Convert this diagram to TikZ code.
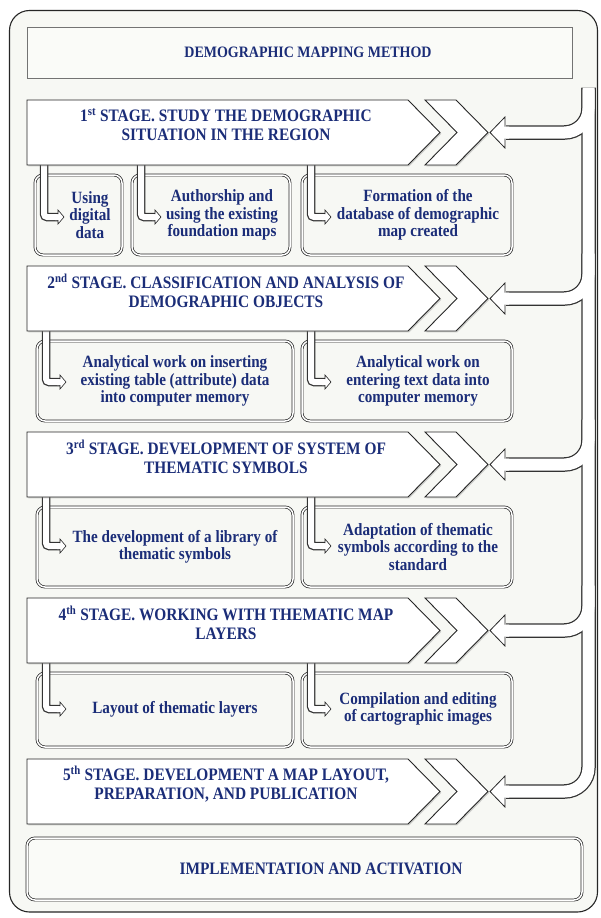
\documentclass[tikz,border=0pt]{standalone}
\usepackage{fontspec}
\setmainfont{Liberation Serif}[FakeStretch=0.88]
\usetikzlibrary{shadows}
\definecolor{navy}{RGB}{27,45,120}
\definecolor{panel}{RGB}{247,248,244}
\tikzset{
  stagebox/.style={fill=white, draw=black!85, line width=0.9pt,
    drop shadow={shadow xshift=1.3pt, shadow yshift=-1.3pt, opacity=0.35}},
  subbox/.style={draw=black!85, line width=0.7pt, double=white, double distance=1.5pt,
    rounded corners=8pt, fill=panel},
  stagetxt/.style={text=navy, font=\fontsize{17.5}{19}\selectfont\bfseries, align=center, inner sep=0pt},
  subtxt/.style={text=navy, font=\fontsize{17.2}{17.5}\selectfont\bfseries, align=center, inner sep=0pt},
  pipeout/.style={draw=black!80, line width=14.5pt, rounded corners=24pt},
  pipein/.style={draw=white, line width=12pt, rounded corners=24pt},
  smallout/.style={draw=black!80, line width=8.5pt, rounded corners=3pt},
  smallin/.style={draw=white, line width=6pt, rounded corners=3pt},
  headline/.style={draw=black!85, line width=0.8pt, line join=miter},
}
\newcommand{\stageshape}[1]{%
  \path[stagebox] (27,#1) -- (408,#1) -- (440,#1+32.5) -- (408,#1+65) -- (27,#1+65) -- cycle;
  \path[stagebox] (425,#1) -- (456,#1) -- (488,#1+32.5) -- (456,#1+65) -- (425,#1+65) -- (457,#1+32.5) -- cycle;
}
\newcommand{\bighead}[1]{%
  \fill[white] (490,#1) -- (505,#1-15.5) -- (505,#1-6) -- (509,#1-6) -- (509,#1+6) -- (505,#1+6) -- (505,#1+15.5) -- cycle;
  \draw[headline] (505,#1-6) -- (505,#1-15.5) -- (490,#1) -- (505,#1+15.5) -- (505,#1+6);
}
\newcommand{\smallarrow}[3]{% #1 box left, #2 stage bottom, #3 bend y
  \draw[smallout] (#1+9,#2-6) -- (#1+9,#3) -- (#1+23.5,#3);
  \draw[smallin] (#1+9,#2-6) -- (#1+9,#3) -- (#1+23.5,#3);
  \fill[white] (#1+29,#3) -- (#1+23,#3-7) -- (#1+23,#3-3) -- (#1+20,#3-3) -- (#1+20,#3+3) -- (#1+23,#3+3) -- (#1+23,#3+7) -- cycle;
  \draw[black!85, line width=0.6pt] (#1+23,#3-3) -- (#1+23,#3-7) -- (#1+29,#3) -- (#1+23,#3+7) -- (#1+23,#3+3);
}
\begin{document}
\begin{tikzpicture}[x=1pt, y=-1pt]
\useasboundingbox (0,0) rectangle (600,918);
\fill[white] (0,0) rectangle (600,918);
% outer panel
\draw[fill=panel, draw=black!85, line width=1.1pt, rounded corners=20pt] (9.5,10.5) rectangle (597.5,912);
% title box
\draw[fill=white!40!panel, draw=black!55, line width=1pt] (27,27) rectangle (572,78);
\node[stagetxt, font=\fontsize{15.9}{18}\selectfont\bfseries] (title) at (308,52) {DEMOGRAPHIC MAPPING METHOD};

% right return pipe
\draw[pipeout] (588.5,88) -- (588.5,791.5) -- (506,791.5);
\foreach \m in {132.5,298.5,464.5,630.5} {
  \draw[pipeout] (588.5,\m-45) -- (588.5,\m) -- (506,\m);
}
\draw[pipein] (588.5,89.3) -- (588.5,791.5) -- (506,791.5);
\foreach \m in {132.5,298.5,464.5,630.5} {
  \draw[pipein] (588.5,\m-45) -- (588.5,\m) -- (506,\m);
}
\foreach \m in {132.5,298.5,464.5,630.5,791.5} { \bighead{\m} }

% sub boxes row 1
\draw[subbox] (35,175) rectangle (122,255);
\draw[subbox] (132,175) rectangle (290,255);
\draw[subbox] (302,175) rectangle (512,255);
% row 2
\draw[subbox] (37,341) rectangle (293,421);
\draw[subbox] (302,341) rectangle (512,421);
% row 3
\draw[subbox] (37,507) rectangle (293,587);
\draw[subbox] (302,507) rectangle (512,587);
% row 4
\draw[subbox] (37,673) rectangle (293,747);
\draw[subbox] (302,673) rectangle (512,747);

% small L arrows
\smallarrow{35}{165}{217}
\smallarrow{132}{165}{217}
\smallarrow{302}{165}{217}
\smallarrow{37}{331}{382}
\smallarrow{302}{331}{382}
\smallarrow{37}{497}{546}
\smallarrow{302}{497}{546}
\smallarrow{37}{663}{709}
\smallarrow{302}{663}{709}

% stages
\stageshape{100}
\stageshape{266}
\stageshape{432}
\stageshape{598}
\stageshape{759}

\node[stagetxt] (s1) at (226,125) {1\textsuperscript{st} STAGE. STUDY THE DEMOGRAPHIC\\SITUATION IN THE REGION};
\node[stagetxt] (s2) at (226,291) {2\textsuperscript{nd} STAGE. CLASSIFICATION AND ANALYSIS OF\\DEMOGRAPHIC OBJECTS};
\node[stagetxt] (s3) at (226,457) {3\textsuperscript{rd} STAGE. DEVELOPMENT OF SYSTEM OF\\THEMATIC SYMBOLS};
\node[stagetxt] (s4) at (226,623) {4\textsuperscript{th} STAGE. WORKING WITH THEMATIC MAP\\LAYERS};
\node[stagetxt] (s5) at (226,784) {5\textsuperscript{th} STAGE. DEVELOPMENT A MAP LAYOUT,\\PREPARATION, AND PUBLICATION};

% sub texts
\node[subtxt] (b11) at (90,215) {Using\\digital\\data};
\node[subtxt] (b12) at (222,215) {Authorship and\\using the existing\\foundation maps};
\node[subtxt] (b13) at (418,215) {Formation of the\\database of demographic\\map created};
\node[subtxt] (b21) at (175,381) {Analytical work on inserting\\existing table (attribute) data\\into computer memory};
\node[subtxt] (b22) at (418,381) {Analytical work on\\entering text data into\\computer memory};
\node[subtxt] (b31) at (175,547) {The development of a library of\\thematic symbols};
\node[subtxt] (b32) at (418,547) {Adaptation of thematic\\symbols according to the\\standard};
\node[subtxt] (b41) at (175,709) {Layout of thematic layers};
\node[subtxt] (b42) at (418,709) {Compilation and editing\\of cartographic images};

% implementation box
\draw[subbox, fill=white!40!panel] (27,838) rectangle (582,900);
\node[stagetxt] (impl) at (321,869) {IMPLEMENTATION AND ACTIVATION};
\end{tikzpicture}
\end{document}
